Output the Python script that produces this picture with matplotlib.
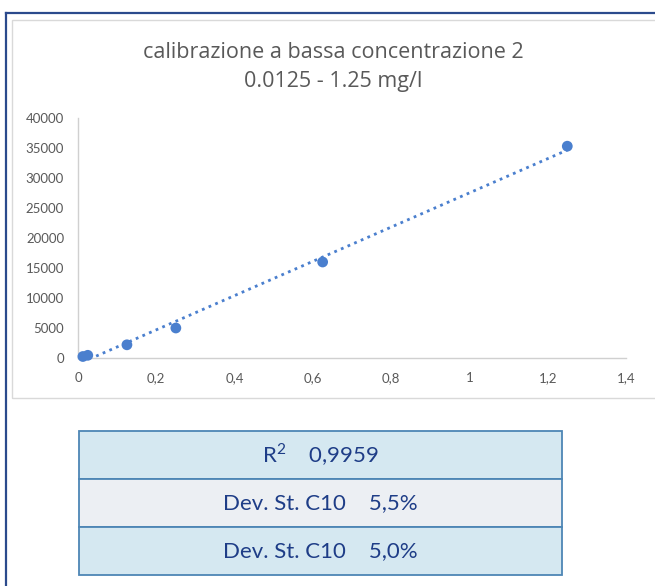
import numpy as np
import matplotlib
matplotlib.use("Agg")
import matplotlib.pyplot as plt
from matplotlib.patches import Rectangle
from matplotlib.lines import Line2D

conc = [0.0125, 0.025, 0.125, 0.25, 0.625, 1.25]
area = [250, 450, 2200, 5000, 16000, 35300]
title = "calibrazione a bassa concentrazione 2\n0.0125 - 1.25 mg/l"
xticks = [0, 0.2, 0.4, 0.6, 0.8, 1.0, 1.2, 1.4]
xticklabels = ["0", "0,2", "0,4", "0,6", "0,8", "1", "1,2", "1,4"]
yticks = [0, 5000, 10000, 15000, 20000, 25000, 30000, 35000, 40000]
table_rows = ["R$^{\\mathregular{2}}$    0,9959", "Dev. St. C10    5,5%", "Dev. St. C10    5,0%"]
row_colors = ["#d5e8f1", "#eceff3", "#d5e8f1"]

W, H = 655, 586
fig = plt.figure(figsize=(W / 100, H / 100), dpi=100)
plt.rcParams['font.family'] = ['Lato', 'DejaVu Sans']

def fx(px):
    return px / W

def fy(py):
    return 1 - py / H

# outer frame (dark blue) and chart area border (light gray)
fig.add_artist(Line2D([fx(6), fx(6)], [fy(13), fy(586)], color="#2b4a8c", lw=1.6))
fig.add_artist(Line2D([fx(6), fx(655)], [fy(13), fy(13)], color="#2b4a8c", lw=1.6))
fig.add_artist(Rectangle((fx(12), fy(398)), fx(660) - fx(12), fy(20) - fy(398),
                         transform=fig.transFigure, fill=False, ec="#d9d9d9", lw=1))

# chart axes
ax = fig.add_axes([fx(78), fy(358), fx(626) - fx(78), fy(118) - fy(358)])
ax.scatter(conc, area, s=60, color="#4a7fce", zorder=3, edgecolors="none", clip_on=False)
m, b = np.polyfit(conc, area, 1)
xs = np.array([min(conc), max(conc)])
ax.plot(xs, m * xs + b, linestyle=(0, (1, 1.6)), color="#4a7fce", lw=2)
ax.set_xlim(0, 1.4)
ax.set_ylim(0, 40000)
ax.set_xticks(xticks)
ax.set_xticklabels(xticklabels)
ax.set_yticks(yticks)
ax.tick_params(length=0, labelsize=9.5, colors="#595959", pad=10)
for s in ["top", "right"]:
    ax.spines[s].set_visible(False)
for s in ["left", "bottom"]:
    ax.spines[s].set_color("#d0d0d0")
    ax.spines[s].set_linewidth(1)

fig.text(fx(333), fy(67), title, ha="center", va="center", fontsize=15.5,
         color="#595959", linespacing=1.45, family=["Open Sans", "DejaVu Sans"])

# table
x0, x1 = 79, 562
ys = [431, 479, 527, 575]
for i, txt in enumerate(table_rows):
    top, bot = ys[i], ys[i + 1]
    fig.add_artist(Rectangle((fx(x0), fy(bot)), fx(x1) - fx(x0), fy(top) - fy(bot),
                             transform=fig.transFigure, fc=row_colors[i],
                             ec="#4d86b5", lw=1.3))
    fig.text(fx((x0 + x1) / 2), fy((top + bot) / 2), txt, ha="center", va="center",
             fontsize=16, color="#1e3d87")

fig.savefig("out.png", dpi=100)
